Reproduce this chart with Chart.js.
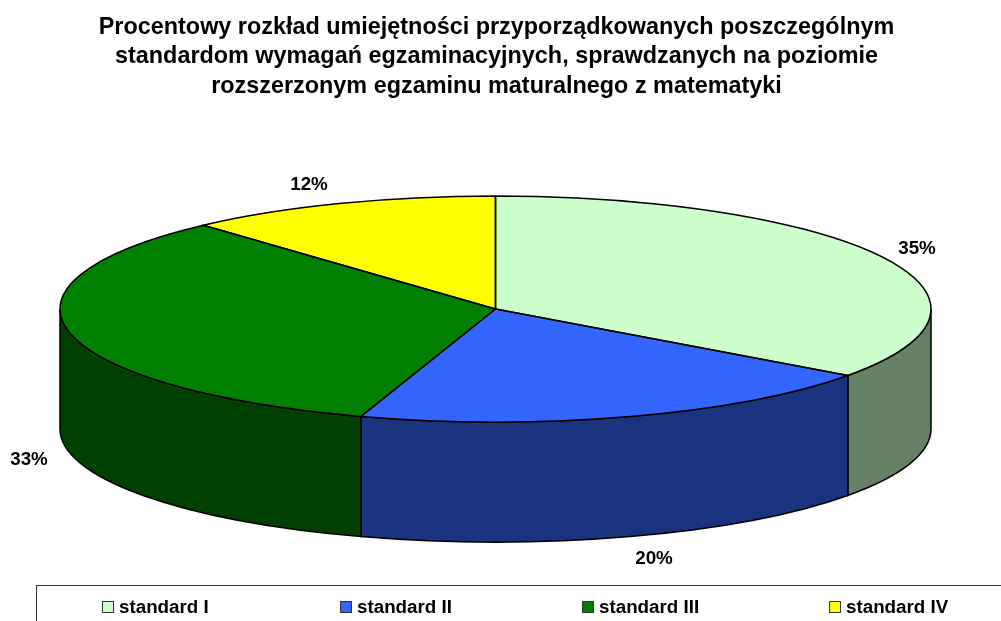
<!DOCTYPE html>
<html>
<head>
<meta charset="utf-8">
<title>Procentowy rozkład umiejętności</title>
<script src="https://cdn.jsdelivr.net/npm/chart.js@4"></script>
<style>
    html, body { margin: 0; padding: 0; background: #fff; overflow: hidden; }
    canvas { display: block; }
</style>
</head>
<body>
<canvas id="pie3d" width="1001" height="621"></canvas>
<script>
const titleLines = [
    "Procentowy rozkład umiejętności przyporządkowanych poszczególnym",
    "standardom wymagań egzaminacyjnych, sprawdzanych na poziomie",
    "rozszerzonym egzaminu maturalnego z matematyki"
];
const categories = ["standard I", "standard II", "standard III", "standard IV"];
const values = [35, 20, 33.3, 11.7];
const topColors = ["#CCFFCC", "#3366FF", "#008000", "#FFFF00"];
const wallColors = ["#668066", "#1A337F", "#004000", "#808000"];

// where the flattened pie sits on the page
const pieX = 495.5, pieY = 309, pieRx = 435.5, pieRy = 113, pieDepth = 120;

const labelSpots = [[917, 249], [654, 559], [29, 460], [309, 185]];
const legendSpots = [102, 340, 582, 829];
const fontName = '"Liberation Sans", Arial, sans-serif';

function drawWalls(chart) {
    const ctx = chart.ctx;
    const arcs = chart.getDatasetMeta(0).data;
    ctx.save();
    ctx.lineWidth = 1.5;
    ctx.strokeStyle = '#000';
    arcs.forEach((arc, i) => {
        const a1 = Math.max(arc.startAngle, 0);
        const a2 = Math.min(arc.endAngle, Math.PI);
        if (a1 >= a2) return;
        ctx.beginPath();
        ctx.ellipse(pieX, pieY, pieRx, pieRy, 0, a1, a2);
        ctx.ellipse(pieX, pieY + pieDepth, pieRx, pieRy, 0, a2, a1, true);
        ctx.closePath();
        ctx.fillStyle = wallColors[i];
        ctx.fill();
        ctx.stroke();
    });
    ctx.restore();
}

function drawOutlines(chart) {
    const ctx = chart.ctx;
    ctx.save();
    ctx.lineWidth = 1.5;
    ctx.strokeStyle = '#000';
    chart.getDatasetMeta(0).data.forEach(arc => {
        ctx.beginPath();
        ctx.moveTo(pieX, pieY);
        ctx.ellipse(pieX, pieY, pieRx, pieRy, 0, arc.startAngle, arc.endAngle);
        ctx.closePath();
        ctx.stroke();
    });
    ctx.restore();
}

function drawValueLabels(chart) {
    const ctx = chart.ctx;
    ctx.save();
    ctx.font = 'bold 18.8px ' + fontName;
    ctx.fillStyle = '#000';
    ctx.textAlign = 'center';
    ctx.textBaseline = 'middle';
    values.forEach((v, i) => {
        ctx.fillText(Math.round(v) + '%', labelSpots[i][0], labelSpots[i][1]);
    });
    ctx.restore();
}

function drawLegendBox(chart) {
    const ctx = chart.ctx;
    ctx.save();
    // the frame runs off the bottom and right of the picture
    ctx.strokeStyle = '#333';
    ctx.lineWidth = 1;
    ctx.strokeRect(36.5, 585.5, 1100, 100);
    ctx.font = 'bold 18.8px ' + fontName;
    ctx.textBaseline = 'middle';
    ctx.textAlign = 'left';
    categories.forEach((name, i) => {
        const x = legendSpots[i];
        ctx.fillStyle = topColors[i];
        ctx.fillRect(x + 0.5, 601.5, 11, 11);
        ctx.strokeStyle = '#333';
        ctx.strokeRect(x + 0.5, 601.5, 11, 11);
        ctx.fillStyle = '#000';
        ctx.fillText(name, x + 17, 608);
    });
    ctx.restore();
}

const pie3d = {
    id: 'pie3d',
    beforeDatasetsDraw(chart) {
        drawWalls(chart);
        // squash the round pie into the top face
        const arc = chart.getDatasetMeta(0).data[0];
        const ctx = chart.ctx;
        ctx.save();
        ctx.translate(pieX, pieY);
        ctx.scale(pieRx / arc.outerRadius, pieRy / arc.outerRadius);
        ctx.translate(-arc.x, -arc.y);
    },
    afterDatasetsDraw(chart) {
        chart.ctx.restore();
        drawOutlines(chart);
        drawValueLabels(chart);
        drawLegendBox(chart);
    }
};

new Chart(document.getElementById('pie3d'), {
    type: 'pie',
    data: {
        labels: categories,
        datasets: [{
            data: values,
            backgroundColor: topColors,
            borderWidth: 0
        }]
    },
    options: {
        responsive: false,
        animation: false,
        layout: { padding: { right: 8, top: 3 } },
        plugins: {
            legend: { display: false },
            tooltip: { enabled: false },
            title: {
                display: true,
                text: titleLines,
                color: '#000',
                font: { family: fontName, size: 23.4, weight: 'bold', lineHeight: 1.25 }
            }
        }
    },
    plugins: [pie3d]
});
</script>
</body>
</html>
